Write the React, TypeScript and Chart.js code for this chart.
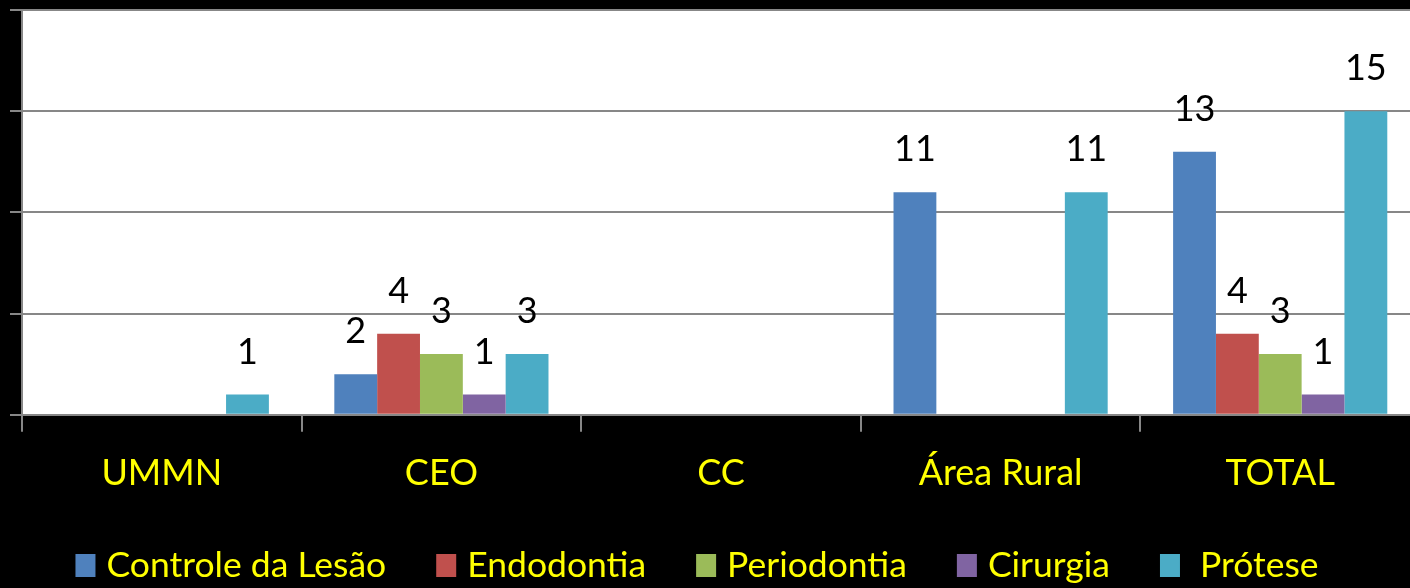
import React, { useEffect, useRef } from 'react';
import { Chart, registerables } from 'chart.js';

Chart.register(...registerables);

const categories = ['UMMN', 'CEO', 'CC', 'Área Rural', 'TOTAL'];
const seriesNames = ['Controle da Lesão', 'Endodontia', 'Periodontia', 'Cirurgia', ' Prótese'];
const controleDaLesao = [null, 2, null, 11, 13];
const endodontia = [null, 4, null, null, 4];
const periodontia = [null, 3, null, null, 3];
const cirurgia = [null, 1, null, null, 1];
const protese = [1, 3, null, 11, 15];
const seriesColors = ['#4F81BD', '#C0504D', '#9BBB59', '#8064A2', '#4BACC6'];
const yMin = 0;
const yMax = 20;
const yStep = 5;

const FONT = 'Lato, "Open Sans", sans-serif';
const YELLOW = '#FFFF00';
const GRID = '#878787';

const backgroundPlugin = {
  id: 'bgPlugin',
  beforeDraw(chart: any) {
    const { ctx, chartArea } = chart;
    ctx.save();
    ctx.fillStyle = '#000000';
    ctx.fillRect(0, 0, chart.width, chart.height);
    ctx.fillStyle = '#FFFFFF';
    ctx.fillRect(chartArea.left, chartArea.top, chartArea.right - chartArea.left, chartArea.bottom - chartArea.top);
    ctx.restore();
  },
};

const valueLabelPlugin = {
  id: 'valueLabels',
  afterDatasetsDraw(chart: any) {
    const { ctx } = chart;
    ctx.save();
    ctx.font = `36px ${FONT}`;
    ctx.fillStyle = '#000000';
    ctx.textAlign = 'center';
    ctx.textBaseline = 'alphabetic';
    chart.data.datasets.forEach((ds: any, di: number) => {
      const meta = chart.getDatasetMeta(di);
      meta.data.forEach((el: any, i: number) => {
        const v = ds.data[i];
        if (v === null || v === undefined || v === 0) return;
        ctx.fillText(String(v), el.x, el.y - 31);
      });
    });
    ctx.restore();
  },
};

const customLegendPlugin = {
  id: 'customLegend',
  afterDraw(chart: any) {
    const { ctx } = chart;
    ctx.save();
    ctx.font = `35.5px ${FONT}`;
    ctx.textBaseline = 'alphabetic';
    ctx.textAlign = 'left';
    const boxW = 20;
    const boxH = 23;
    const boxGap = 11;
    const itemGap = 50;
    const items = chart.data.datasets.map((ds: any) => ({
      text: ds.label as string,
      color: ds.backgroundColor as string,
      w: boxW + boxGap + ctx.measureText(ds.label).width,
    }));
    const total = items.reduce((s: number, it: any) => s + it.w, 0) + itemGap * (items.length - 1);
    let x = 697 - total / 2;
    const baseline = 577;
    items.forEach((it: any) => {
      ctx.fillStyle = it.color;
      ctx.fillRect(x, baseline - boxH, boxW, boxH);
      ctx.fillStyle = YELLOW;
      ctx.fillText(it.text, x + boxW + boxGap, baseline);
      x += it.w + itemGap;
    });
    ctx.restore();
  },
};

export default function App() {
  const canvasRef = useRef<HTMLCanvasElement | null>(null);

  useEffect(() => {
    if (!canvasRef.current) return;
    const seriesData = [controleDaLesao, endodontia, periodontia, cirurgia, protese];
    const chart = new Chart(canvasRef.current, {
      type: 'bar',
      data: {
        labels: categories,
        datasets: seriesNames.map((name, i) => ({
          label: name,
          data: seriesData[i],
          backgroundColor: seriesColors[i],
          borderWidth: 0,
          barPercentage: 1,
          categoryPercentage: 0.766,
        })),
      },
      options: {
        responsive: false,
        animation: false,
        devicePixelRatio: 1,
        layout: { padding: { left: 10, top: 10, right: 0, bottom: 73 } },
        plugins: {
          legend: { display: false },
          tooltip: { enabled: false },
        },
        scales: {
          x: {
            offset: true,
            grid: {
              display: true,
              offset: true,
              drawOnChartArea: false,
              drawTicks: true,
              tickLength: 17,
              color: GRID,
              lineWidth: 2,
            },
            border: { display: true, color: GRID, width: 2 },
            ticks: {
              color: YELLOW,
              font: { family: FONT, size: 36 },
              padding: 20,
              maxRotation: 0,
              autoSkip: false,
            },
          },
          y: {
            min: yMin,
            max: yMax,
            grid: {
              display: true,
              drawTicks: true,
              tickLength: 12,
              color: GRID,
              lineWidth: 2,
            },
            border: { display: true, color: GRID, width: 2 },
            ticks: { display: false, stepSize: yStep },
          },
        },
      },
      plugins: [backgroundPlugin, valueLabelPlugin, customLegendPlugin],
    });
    return () => chart.destroy();
  }, []);

  return (
    <div style={{ position: 'fixed', left: 0, top: 0, width: 1410, height: 588, overflow: 'hidden', background: '#000' }}>
      <canvas ref={canvasRef} width={1420} height={588} style={{ display: 'block', width: 1420, height: 588 }} />
    </div>
  );
}
